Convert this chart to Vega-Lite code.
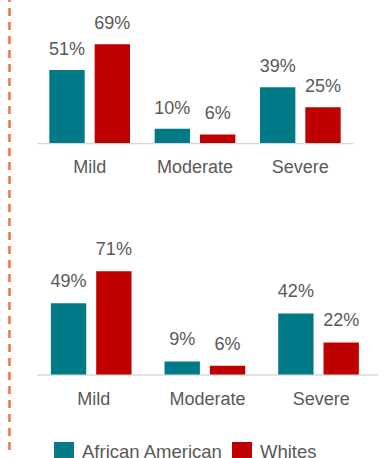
{
  "$schema": "https://vega.github.io/schema/vega-lite/v6.json",
  "padding": 0,
  "autosize": {"type": "pad"},
  "datasets": {
    "first": [
      {"severity": "Mild", "group": "African American", "share": 0.51},
      {"severity": "Mild", "group": "Whites", "share": 0.69},
      {"severity": "Moderate", "group": "African American", "share": 0.10},
      {"severity": "Moderate", "group": "Whites", "share": 0.06},
      {"severity": "Severe", "group": "African American", "share": 0.39},
      {"severity": "Severe", "group": "Whites", "share": 0.25}
    ],
    "second": [
      {"severity": "Mild", "group": "African American", "share": 0.49},
      {"severity": "Mild", "group": "Whites", "share": 0.71},
      {"severity": "Moderate", "group": "African American", "share": 0.09},
      {"severity": "Moderate", "group": "Whites", "share": 0.06},
      {"severity": "Severe", "group": "African American", "share": 0.42},
      {"severity": "Severe", "group": "Whites", "share": 0.22}
    ],
    "divider": [{}]
  },
  "spacing": 18,
  "hconcat": [
    {
      "width": 19,
      "height": 450,
      "data": {"name": "divider"},
      "mark": {"type": "rule", "clip": true, "color": "#F4703E", "strokeWidth": 2.5, "strokeDash": [8, 6], "strokeDashOffset": 6},
      "encoding": {
        "x": {"datum": 0.5, "type": "quantitative", "scale": {"domain": [0, 1]}, "axis": null}
      }
    },
    {
      "spacing": 53,
      "vconcat": [
        {
          "width": 316,
          "height": 143,
          "data": {"name": "first"},
          "encoding": {
            "x": {
              "field": "severity", "type": "nominal", "sort": ["Mild", "Moderate", "Severe"],
              "scale": {"paddingInner": 0.234, "paddingOuter": 0.117},
              "axis": {"title": null, "labelAngle": 0, "ticks": false, "tickSize": 0, "labelPadding": 15, "labelFontSize": 18, "labelColor": "#595959", "domainColor": "#D9D9D9", "domainWidth": 1.5, "grid": false}
            },
            "xOffset": {"field": "group", "type": "nominal", "sort": ["African American", "Whites"], "scale": {"paddingInner": 0.22, "paddingOuter": 0}},
            "y": {"field": "share", "type": "quantitative", "scale": {"domain": [0, 1]}, "axis": null}
          },
          "layer": [
            {
              "mark": {"type": "bar"},
              "encoding": {
                "color": {
                  "field": "group", "type": "nominal",
                  "scale": {"domain": ["African American", "Whites"], "range": ["#007A87", "#C00000"]},
                  "legend": {"orient": "none", "legendX": 54, "legendY": 442, "direction": "horizontal", "title": null, "symbolType": "square", "symbolSize": 400, "symbolStrokeWidth": 0, "symbolOpacity": 1, "labelFontSize": 18.5, "labelColor": "#595959", "labelOffset": 8, "columnPadding": 9, "padding": 0}
                }
              }
            },
            {
              "mark": {"type": "text", "baseline": "alphabetic", "dy": -15, "fontSize": 18, "color": "#595959"},
              "encoding": {"text": {"field": "share", "type": "quantitative", "format": ".0%"}}
            }
          ]
        },
        {
          "width": 341,
          "height": 145.5,
          "data": {"name": "second"},
          "encoding": {
            "x": {
              "field": "severity", "type": "nominal", "sort": ["Mild", "Moderate", "Severe"],
              "scale": {"paddingInner": 0.244, "paddingOuter": 0.122},
              "axis": {"title": null, "labelAngle": 0, "ticks": false, "tickSize": 0, "labelPadding": 16, "labelFontSize": 18, "labelColor": "#595959", "domainColor": "#D9D9D9", "domainWidth": 1.5, "grid": false}
            },
            "xOffset": {"field": "group", "type": "nominal", "sort": ["African American", "Whites"], "scale": {"paddingInner": 0.224, "paddingOuter": 0}},
            "y": {"field": "share", "type": "quantitative", "scale": {"domain": [0, 1]}, "axis": null}
          },
          "layer": [
            {
              "mark": {"type": "bar"},
              "encoding": {
                "color": {
                  "field": "group", "type": "nominal",
                  "scale": {"domain": ["African American", "Whites"], "range": ["#007A87", "#C00000"]},
                  "legend": {"orient": "none", "legendX": 54, "legendY": 442, "direction": "horizontal", "title": null, "symbolType": "square", "symbolSize": 400, "symbolStrokeWidth": 0, "symbolOpacity": 1, "labelFontSize": 18.5, "labelColor": "#595959", "labelOffset": 8, "columnPadding": 9, "padding": 0}
                }
              }
            },
            {
              "mark": {"type": "text", "baseline": "alphabetic", "dy": -16, "fontSize": 18, "color": "#595959"},
              "encoding": {"text": {"field": "share", "type": "quantitative", "format": ".0%"}}
            }
          ]
        }
      ]
    }
  ],
  "config": {
    "font": "Liberation Sans",
    "view": {"stroke": null}
  }
}
